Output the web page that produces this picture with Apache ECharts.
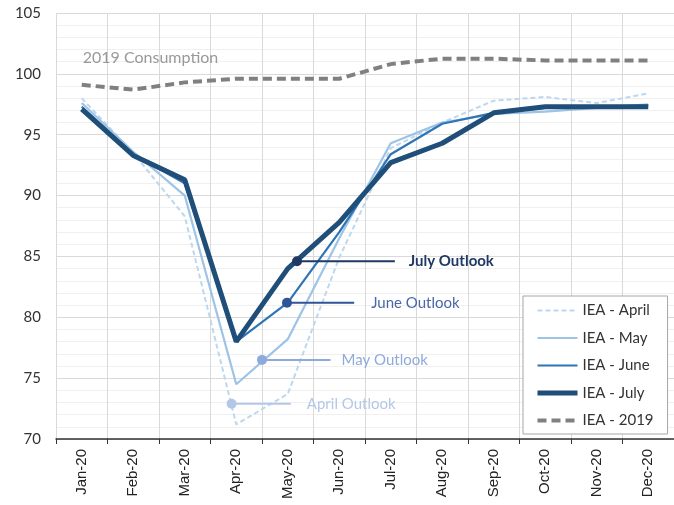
<!DOCTYPE html>
<html><head><meta charset="utf-8">
<script src="https://cdn.jsdelivr.net/npm/echarts@6/dist/echarts.min.js"></script>
<style>html,body{margin:0;padding:0;background:#fff}#c{width:674px;height:505px}</style>
</head><body><div id="c"></div>
<script>
const categories = ['Jan-20','Feb-20','Mar-20','Apr-20','May-20','Jun-20','Jul-20','Aug-20','Sep-20','Oct-20','Nov-20','Dec-20'];
const ieaApril = [98.0, 93.5, 88.3, 71.2, 73.7, 84.9, 93.9, 96.0, 97.8, 98.1, 97.6, 98.4];
const ieaMay   = [97.6, 93.6, 90.0, 74.5, 78.2, 86.5, 94.3, 96.0, 96.7, 96.9, 97.2, 97.5];
const ieaJune  = [97.3, 93.4, 91.0, 78.0, 81.2, 87.0, 93.4, 95.9, 96.8, 97.2, 97.3, 97.4];
const ieaJuly  = [97.1, 93.3, 91.3, 78.0, 84.0, 87.8, 92.7, 94.3, 96.8, 97.3, 97.3, 97.3];
const iea2019  = [99.1, 98.7, 99.3, 99.6, 99.6, 99.6, 100.8, 101.25, 101.25, 101.1, 101.1, 101.1];
const yTicks = [70, 75, 80, 85, 90, 95, 100, 105];
// annotation callouts: marker x (category index units), line end x, y value
const outlookNames = ['April Outlook', 'May Outlook', 'June Outlook', 'July Outlook'];
const outlookMarkerX = [2.91, 3.50, 3.985, 4.18];
const outlookLineEndX = [4.06, 4.83, 5.29, 6.08];
const outlookY = [72.9, 76.5, 81.2, 84.6];
const consumptionLabel = '2019 Consumption';
const consumptionLabelPos = [0.02, 101.3];

const names = ['IEA - April','IEA - May','IEA - June','IEA - July','IEA - 2019'];
const lineColors = ['#bdd7ee','#9dc3e6','#2e75b6','#1f4e79','#808080'];
const lineWidths = [2, 2.2, 2.2, 5, 4];
const lineDashes = [[5,3], 'solid', 'solid', 'solid', [9,5]];
const outlookColors = ['#b4c7e7','#8eaadb','#2f5597','#1f3864'];
const outlookTextColors = ['#b4c7e7','#8eaadb','#4a67a8','#1f3864'];
const labelGaps = [16, 11, 17, 14];

const chart = echarts.init(document.getElementById('c'));
const baseFont = 'Lato';
const seriesData = [ieaApril, ieaMay, ieaJune, ieaJuly, iea2019];
const lineSeries = names.map((n, i) => ({
  type: 'line', name: n, data: seriesData[i], xAxisIndex: 0, yAxisIndex: 0,
  symbol: 'none', showSymbol: false, animation: false, z: 2 + i,
  itemStyle: {color: lineColors[i]},
  lineStyle: {color: lineColors[i], width: lineWidths[i], type: lineDashes[i]}
}));

const annoSeries = outlookNames.map((n, i) => ({
  type: 'line', xAxisIndex: 1, yAxisIndex: 0, animation: false, z: 10,
  showSymbol: true,
  lineStyle: {color: outlookColors[i], width: 2},
  itemStyle: {color: outlookColors[i]},
  data: [
    {value: [outlookMarkerX[i], outlookY[i]], symbol: 'circle', symbolSize: 10},
    {value: [outlookLineEndX[i], outlookY[i]], symbol: 'circle', symbolSize: 0,
     label: {show: true, position: 'right', distance: labelGaps[i], formatter: n,
       color: outlookTextColors[i], fontFamily: baseFont, fontSize: 15,
       fontWeight: i === 3 ? 'bold' : 'normal'}}
  ]
}));

const textSeries = {
  type: 'scatter', xAxisIndex: 1, yAxisIndex: 0, symbolSize: 0, animation: false, silent: true,
  data: [{value: consumptionLabelPos, label: {show: true, position: 'right', distance: 0,
    formatter: consumptionLabel, color: '#7f7f7f', fontFamily: baseFont, fontSize: 16}}]
};

chart.setOption({
  animation: false,
  textStyle: {fontFamily: baseFont},
  grid: {left: 56, right: -5, top: 13, bottom: 66, containLabel: false},
  legend: {
    data: names.map((n, i) => ({name: n, lineStyle: {width: lineWidths[i], type: lineDashes[i], color: lineColors[i]}})),
    orient: 'vertical', left: 523, top: 296,
    backgroundColor: '#fff', borderColor: '#a6a6a6', borderWidth: 1,
    padding: [7, 14, 6, 12], itemWidth: 40, itemHeight: 14, itemGap: 12.5,
    itemStyle: {opacity: 0},
    textStyle: {fontFamily: baseFont, fontSize: 15, color: '#333'}
  },
  xAxis: [{
    type: 'category', data: categories, boundaryGap: true,
    axisLine: {lineStyle: {color: '#333', width: 1.5}},
    axisTick: {show: true, length: 5, lineStyle: {color: '#333'}},
    axisLabel: {rotate: 90, margin: 10, fontFamily: 'Liberation Sans', fontSize: 15, color: '#222', interval: 0},
    splitLine: {show: true, interval: 0, lineStyle: {color: '#d9d9d9'}}
  }, {
    type: 'value', min: -0.5, max: 11.5, show: false
  }],
  yAxis: {
    type: 'value', min: yTicks[0], max: yTicks[yTicks.length-1], interval: 5,
    axisLine: {show: false}, axisTick: {show: false},
    axisLabel: {margin: 15, fontFamily: baseFont, fontSize: 15, color: '#333'},
    splitLine: {lineStyle: {color: '#d9d9d9'}},
    minorTick: {show: false, splitNumber: 5},
    minorSplitLine: {show: true, lineStyle: {color: '#f0f0f0'}}
  },
  series: lineSeries.concat(annoSeries).concat([textSeries])
});
</script></body></html>
